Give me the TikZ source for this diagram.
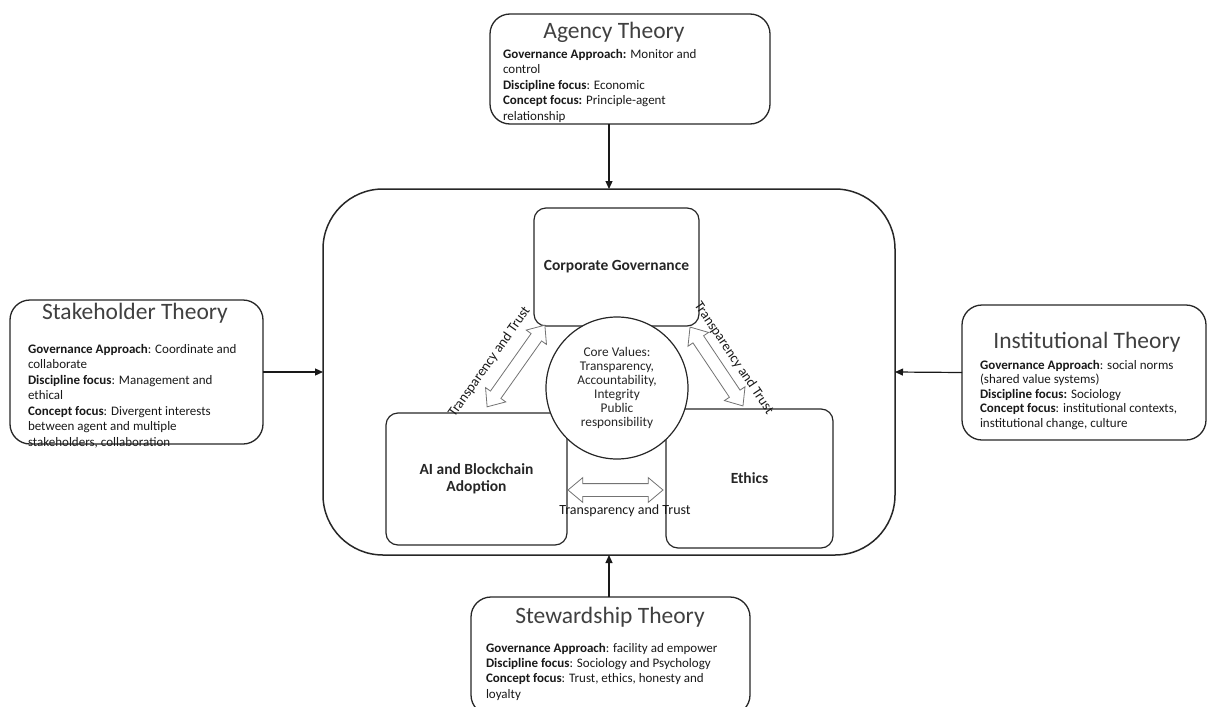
\documentclass[tikz,border=0pt]{standalone}
\usepackage{fontspec}
\setmainfont{Carlito}
\usetikzlibrary{shapes.arrows,arrows.meta,calc}
\begin{document}
\begin{tikzpicture}[x=1pt,y=-1pt,
  every node/.style={inner sep=0pt, outer sep=0pt},
  frame/.style={draw=black!85, line width=1.3pt, rounded corners=20pt},
  inbox/.style={draw=black!85, line width=1.2pt, rounded corners=12pt,
    font=\fontsize{15.5}{17}\selectfont\bfseries, align=center, text=black!85},
  title/.style={font=\fontsize{23.5}{27}\selectfont, text=black!75},
  body/.style={align=left, anchor=north west, text=black!90},
  feed/.style={-{Triangle[length=8pt,width=7pt]}, line width=1.2pt, draw=black!90},
  dblarr/.style={double arrow, draw=black!55, line width=0.8pt, fill=white,
    inner xsep=0pt, inner ysep=6pt, double arrow head extend=6pt,
    double arrow tip angle=80, minimum height=#1, sloped},
  tlabel/.style={font=\fontsize{14}{16}\selectfont, text=black!90, sloped}]
\useasboundingbox (0,0) rectangle (1208,707);
\clip (0,0) rectangle (1208,707);

% central frame
\node[frame, rounded corners=60pt, line width=1.5pt,
  minimum width=572pt, minimum height=366pt] (cont) at (609,372) {};

% theory boxes
\node[frame, minimum width=280pt, minimum height=110pt] (agency) at (630,69) {};
\node[title] (agencyT) at (614,32) {Agency Theory};
\node[body, font=\fontsize{13}{15.5}\selectfont] (agencyB) at (503,49)
  {\textbf{Governance Approach:} Monitor and\\control\\\textbf{Discipline focus}: Economic\\\textbf{Concept focus:} Principle-agent\\relationship};

\node[frame, minimum width=253pt, minimum height=144pt] (stake) at (136.5,372) {};
\node[title] (stakeT) at (135,313) {Stakeholder Theory};
\node[body, font=\fontsize{13}{15.5}\selectfont] (stakeB) at (28,344)
  {\textbf{Governance Approach}: Coordinate and\\collaborate\\\textbf{Discipline focus}: Management and\\ethical\\\textbf{Concept focus}: Divergent interests\\between agent and multiple\\stakeholders, collaboration};

\node[frame, minimum width=244pt, minimum height=135pt] (inst) at (1084,372.5) {};
\node[title] (instT) at (1087,342) {Institutional Theory};
\node[body, font=\fontsize{13}{14.5}\selectfont] (instB) at (980,360)
  {\textbf{Governance Approach}: social norms\\(shared value systems)\\\textbf{Discipline focus:} Sociology\\\textbf{Concept focus}: institutional contexts,\\institutional change, culture};

\node[frame, minimum width=279pt, minimum height=118pt] (stew) at (610.5,656) {};
\node[title] (stewT) at (610,617) {Stewardship Theory};
\node[body, font=\fontsize{13}{15.3}\selectfont] (stewB) at (486,643)
  {\textbf{Governance Approach}: facility ad empower\\\textbf{Discipline focus}: Sociology and Psychology\\\textbf{Concept focus}: Trust, ethics, honesty and\\loyalty};

% inner boxes
\node[inbox, minimum width=165pt, minimum height=118pt] (cg) at (616.5,267) {Corporate Governance};
\node[inbox, minimum width=181pt, minimum height=132pt] (ai) at (476.5,479) {AI and Blockchain\\Adoption};
\node[inbox, minimum width=167pt, minimum height=139pt] (eth) at (749.5,478.5) {Ethics};

% core values
\node[circle, draw=black!85, line width=1.2pt, fill=white, minimum size=142pt,
  align=center, font=\fontsize{13.3}{14}\selectfont, text=black!85] (core) at (617,388)
  {Core Values:\\Transparency,\\Accountability,\\Integrity\\Public\\responsibility};

% two-way links between the inner boxes
\coordinate (l1) at (487,407);
\coordinate (l2) at (545,325);
\path (l1) -- node[dblarr=100pt] (la) {} (l2);
\path (l1) -- node[tlabel, pos=0.38, above=18pt] (lt) {Transparency and Trust} (l2);

\coordinate (r1) at (690,327);
\coordinate (r2) at (743,406);
\path (r1) -- node[dblarr=95pt] (ra) {} (r2);
\path (r1) -- node[tlabel, pos=0.53, above=13pt] (rt) {Transparency and Trust} (r2);

\coordinate (h1) at (568,490);
\coordinate (h2) at (663,490);
\path (h1) -- node[dblarr=95pt] (ha) {} (h2);
\path (h1) -- node[tlabel, pos=0.6, below=15pt] (ht) {Transparency and Trust} (h2);

% theories feeding the frame
\draw[feed] (agency.south -| cont.north) -- (cont.north);
\draw[feed] (stake.east) -- (cont.west);
\draw[feed] (inst.west) -- (cont.east);
\draw[feed] (stew.north -| cont.south) -- (cont.south);
\end{tikzpicture}
\end{document}
